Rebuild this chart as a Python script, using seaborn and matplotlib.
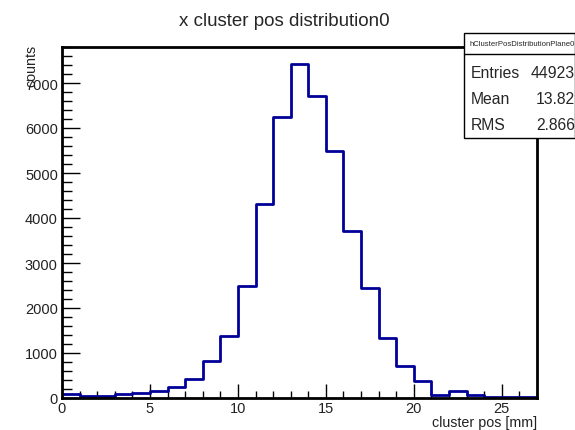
import numpy as np
import matplotlib
matplotlib.use("Agg")
import matplotlib.pyplot as plt
import seaborn as sns
from matplotlib.patches import Rectangle
from matplotlib.ticker import MultipleLocator

bin_edges = list(range(0, 28))
counts = [80, 50, 50, 80, 105, 165, 235, 420, 815, 1385, 2490, 4310, 6240, 7420,
          6720, 5500, 3720, 2440, 1333, 704, 370, 67, 148, 75, 15, 15, 15]
title = "x cluster pos distribution0"
xlabel = "cluster pos [mm]"
ylabel = "counts"
stats_name = "hClusterPosDistributionPlane0"
stats_labels = ["Entries", "Mean", "RMS"]
stats_values = ["44923", "13.82", "2.866"]

sns.set_theme(style="white")
plt.rcParams['font.family'] = ['Liberation Sans', 'DejaVu Sans']

centers = [e + 0.5 for e in bin_edges[:-1]]

fig = plt.figure(figsize=(5.75, 4.31), dpi=100)
ax = fig.add_axes([62/575, 1 - 399/431, (537-62)/575, (399-48)/431])
sns.histplot(x=centers, weights=counts, bins=bin_edges, element="step", fill=False,
             color="#000099", linewidth=2, ax=ax)
ax.set_xlim(0, 27)
ax.set_ylim(0, 7800)
ax.xaxis.set_major_locator(MultipleLocator(5))
ax.xaxis.set_minor_locator(MultipleLocator(1))
ax.yaxis.set_major_locator(MultipleLocator(1000))
ax.yaxis.set_minor_locator(MultipleLocator(200))
ax.tick_params(which="both", direction="in", top=False, right=False, bottom=True, left=True,
               labelsize=10.5, colors="black", labelcolor="#222222")
ax.tick_params(axis="x", which="major", length=10, width=1, pad=2)
ax.tick_params(axis="x", which="minor", length=5, width=1)
ax.tick_params(axis="y", which="major", length=13, width=1, pad=3)
ax.tick_params(axis="y", which="minor", length=7, width=1)
for s in ax.spines.values():
    s.set_linewidth(2)
    s.set_color("black")
ax.set_xlabel("")
ax.set_ylabel("")
fig.text(537/575, 1 - 423/431, xlabel, ha="right", va="center", fontsize=10.3,
         color="#222222")
fig.text(31/575, 1 - 45/431, ylabel, ha="center", va="top", rotation=90, fontsize=10.3,
         color="#222222")
fig.text(284/575, 1 - 21/431, title, ha="center", va="center", fontsize=13.5)

# stats box
bx0, by0, bx1, by1 = 464, 34, 575, 139
rect = Rectangle((bx0/575, 1 - by1/431), (bx1 - bx0)/575, (by1 - by0)/431,
                 transform=fig.transFigure, facecolor="white", edgecolor="black",
                 linewidth=1, zorder=5)
fig.add_artist(rect)
fig.add_artist(plt.Line2D([bx0/575, bx1/575], [1 - 55/431, 1 - 55/431],
                          transform=fig.transFigure, color="black", linewidth=1, zorder=6))
hdr = fig.text((bx0 + bx1)/2/575 + 0.005, 1 - 45/431, stats_name, ha="center", va="center",
               fontsize=5.6, zorder=7)
hdr.set_clip_path(rect)
for i, (lab, val) in enumerate(zip(stats_labels, stats_values)):
    y = 1 - (73 + 26*i)/431
    fig.text(471/575, y, lab, ha="left", va="center", fontsize=11.3, zorder=7)
    fig.text(575/575, y, val, ha="right", va="center", fontsize=11.3, zorder=7)

fig.savefig("out.png", dpi=100)
